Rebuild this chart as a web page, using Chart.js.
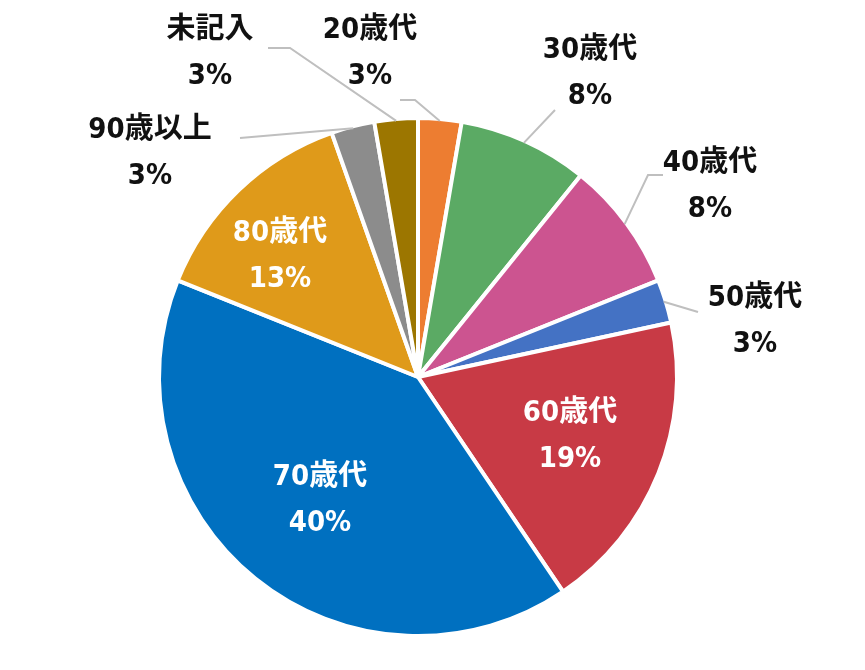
<!DOCTYPE html>
<html><head><meta charset="utf-8">
<script src="https://cdn.jsdelivr.net/npm/chart.js@4/dist/chart.umd.min.js"></script>
<style>html,body{margin:0;background:#fff}#wrap{width:865px;height:670px}</style>
</head><body><div id="wrap"><canvas id="c"></canvas></div>
<script>
const categories = ['20歳代','30歳代','40歳代','50歳代','60歳代','70歳代','80歳代','90歳以上','未記入'];
const counts = [1, 3, 3, 1, 7, 15, 5, 1, 1];
const percentLabels = ['3%','8%','8%','3%','19%','40%','13%','3%','3%'];
const colors = ['#ED7D31','#5BAA64','#CC5490','#4472C4','#C83A45','#0070C0','#DF9A1A','#8C8C8C','#9C7600'];

// label placement: inside (white) or outside (black, with leader line)
const labelPos = [
  {x:370,y:30,inside:false,line:[[400,100],[415,100]]},
  {x:590,y:50,inside:false,line:[[555,110]]},
  {x:710,y:163,inside:false,line:[[663,175],[648,175]]},
  {x:755,y:298,inside:false,line:[[698,312]]},
  {x:570,y:413,inside:true},
  {x:320,y:477,inside:true},
  {x:280,y:233,inside:true},
  {x:150,y:130,inside:false,line:[[240,138]]},
  {x:210,y:30,inside:false,line:[[268,48],[290,48]]}
];

const labelPlugin = {
  id: 'labels',
  afterDatasetsDraw(chart) {
    const ctx = chart.ctx;
    const arcs = chart.getDatasetMeta(0).data;
    ctx.save();
    ctx.font = 'bold 29px "Liberation Sans Narrow","DejaVu Sans Condensed","Noto Sans CJK JP",sans-serif';
    ctx.textAlign = 'center';
    ctx.textBaseline = 'middle';
    arcs.forEach((arc, i) => {
      const p = labelPos[i];
      if (!p.inside) {
        const mid = (arc.startAngle + arc.endAngle) / 2;
        const ex = arc.x + Math.cos(mid) * (arc.outerRadius - 2);
        const ey = arc.y + Math.sin(mid) * (arc.outerRadius - 2);
        ctx.strokeStyle = '#BFBFBF';
        ctx.lineWidth = 2;
        ctx.beginPath();
        ctx.moveTo(p.line[0][0], p.line[0][1]);
        p.line.slice(1).forEach(pt => ctx.lineTo(pt[0], pt[1]));
        ctx.lineTo(ex, ey);
        ctx.stroke();
      }
      ctx.fillStyle = p.inside ? '#fff' : '#111';
      ctx.fillText(categories[i], p.x, p.y);
      ctx.fillText(percentLabels[i], p.x, p.y + 46);
    });
    ctx.restore();
  }
};

new Chart(document.getElementById('c'), {
  type: 'pie',
  data: {
    labels: categories,
    datasets: [{
      data: counts,
      backgroundColor: colors,
      borderColor: '#fff',
      borderWidth: 4
    }]
  },
  options: {
    responsive: true,
    maintainAspectRatio: false,
    animation: false,
    layout: { padding: { left: 157, right: 186, top: 116, bottom: 32 } },
    plugins: { legend: { display: false }, tooltip: { enabled: false } }
  },
  plugins: [labelPlugin]
});
</script>
</body></html>
